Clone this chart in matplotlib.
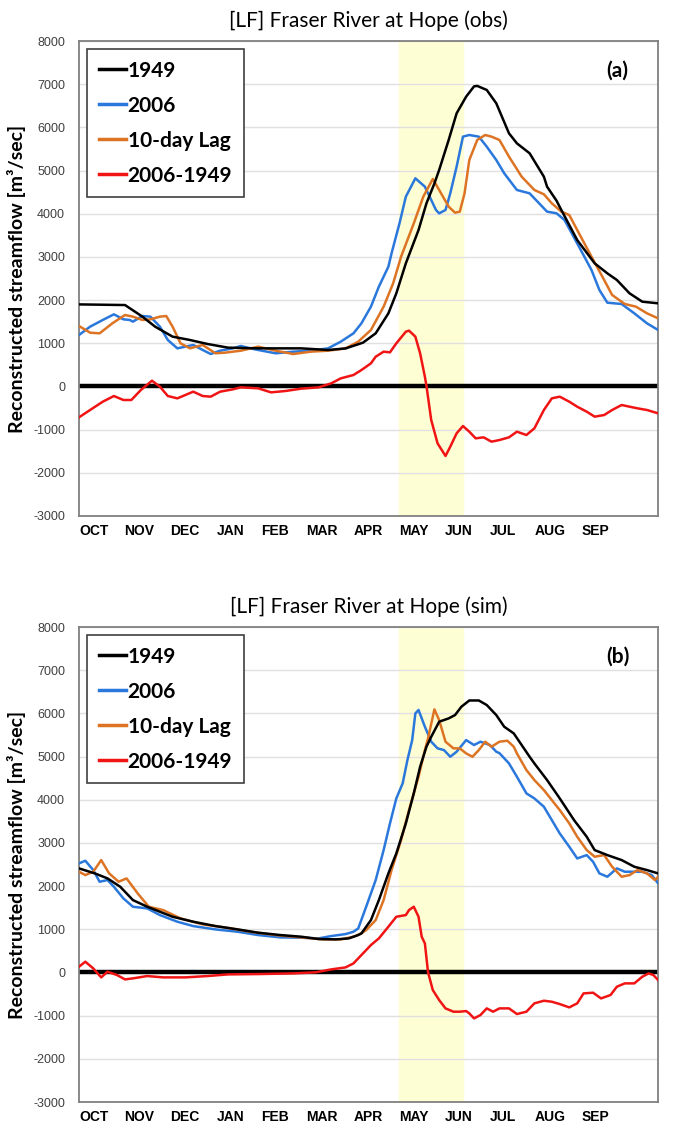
import matplotlib
matplotlib.use("Agg")
import matplotlib.pyplot as plt

# ---- data (day of water year, m3/s) ----
months = ["OCT", "NOV", "DEC", "JAN", "FEB", "MAR", "APR", "MAY", "JUN", "JUL", "AUG", "SEP"]
month_pos = [0, 28.5, 57.5, 87, 114.5, 143, 173, 201.5, 230.5, 259, 287, 317]
shade_start, shade_end = 201.5, 242

# (a) observed
obs_1949_day = [0, 29, 40, 48, 59, 70, 81, 94, 113, 140, 157, 168, 179, 187, 195, 200, 206, 214, 219, 224,
                227, 233, 238, 244, 249, 251, 257, 263, 271, 276, 284, 293, 295, 301, 304, 314, 325, 333,
                339, 347, 355, 365]
obs_1949 = [1900, 1885, 1616, 1384, 1153, 1075, 983, 898, 882, 882, 844, 880, 1014, 1230, 1693, 2156, 2851,
            3623, 4241, 4700, 5013, 5708, 6325, 6711, 6950, 6960, 6866, 6557, 5862, 5630, 5400, 4858, 4627,
            4300, 4086, 3391, 2851, 2619, 2465, 2156, 1963, 1925]

obs_2006_day = [0, 7, 15, 22, 28, 32, 34, 40, 45, 51, 56, 62, 67, 72, 78, 83, 89, 97, 102, 108, 113, 124,
                135, 146, 157, 165, 173, 178, 184, 189, 195, 197, 202, 206, 212, 218, 222, 225, 227, 231,
                234, 238, 242, 246, 252, 257, 263, 268, 276, 284, 290, 295, 301, 306, 314, 323, 328, 333,
                342, 350, 358, 365]
obs_2006 = [1191, 1384, 1539, 1670, 1554, 1539, 1500, 1631, 1616, 1384, 1075, 882, 921, 960, 844, 751, 828,
            882, 937, 882, 844, 767, 805, 828, 882, 1037, 1230, 1461, 1848, 2311, 2774, 3083, 3777, 4395,
            4820, 4627, 4318, 4086, 4009, 4086, 4472, 5090, 5785, 5823, 5785, 5553, 5244, 4936, 4550, 4472,
            4241, 4048, 4009, 3855, 3314, 2697, 2233, 1940, 1909, 1693, 1461, 1307]

obs_lag_day = [0, 7, 13, 21, 29, 34, 40, 45, 51, 55, 59, 64, 70, 78, 86, 92, 102, 113, 124, 135, 146, 157,
               168, 176, 184, 192, 198, 203, 211, 217, 223, 227, 233, 237, 240, 243, 246, 251, 256, 260,
               265, 271, 279, 287, 293, 298, 304, 309, 314, 323, 331, 336, 344, 351, 358, 365]
obs_lag = [1400, 1245, 1230, 1461, 1654, 1616, 1539, 1554, 1616, 1631, 1384, 998, 882, 960, 767, 782, 828,
           921, 828, 751, 805, 828, 882, 1037, 1307, 1848, 2388, 3005, 3777, 4395, 4804, 4550, 4163, 4024,
           4048, 4472, 5244, 5708, 5823, 5785, 5708, 5322, 4858, 4550, 4450, 4241, 4048, 3970, 3623, 3005,
           2465, 2118, 1909, 1848, 1693, 1577]

obs_diff_day = [0, 7, 15, 22, 28, 33, 39, 46, 51, 56, 62, 67, 72, 78, 83, 89, 97, 102, 113, 121, 130, 140,
                151, 159, 165, 173, 178, 184, 187, 192, 196, 200, 206, 208, 212, 215, 218, 219, 222, 226,
                231, 234, 238, 242, 246, 250, 255, 260, 265, 271, 276, 282, 287, 293, 298, 303, 309, 314,
                320, 325, 331, 336, 342, 347, 352, 358, 365]
obs_diff = [-716, -546, -353, -222, -314, -314, -83, 133, -6, -222, -276, -199, -121, -222, -237, -121, -67,
            -21, -44, -137, -106, -52, -21, 72, 187, 265, 380, 535, 689, 805, 790, 998, 1268, 1292, 1153, 767,
            226, 10, -778, -1318, -1611, -1395, -1086, -917, -1048, -1202, -1179, -1279, -1241, -1179, -1048,
            -1125, -971, -546, -276, -237, -353, -469, -585, -700, -662, -546, -430, -469, -507, -546, -623]

# (b) simulated
sim_1949_day = [0, 10, 18, 26, 34, 43, 51, 59, 72, 86, 100, 113, 127, 140, 151, 162, 170, 176, 178, 184, 189,
                195, 200, 206, 211, 215, 219, 222, 227, 233, 237, 241, 246, 252, 257, 263, 268, 274, 279, 284,
                287, 295, 303, 312, 320, 325, 333, 342, 350, 358, 365]
sim_1949 = [2411, 2295, 2179, 1986, 1677, 1523, 1407, 1291, 1176, 1075, 998, 921, 867, 829, 775, 767, 790, 867,
            905, 1214, 1677, 2295, 2758, 3453, 4148, 4765, 5229, 5460, 5808, 5885, 5962, 6155, 6300, 6300, 6194,
            5962, 5692, 5538, 5268, 4997, 4843, 4457, 4032, 3530, 3144, 2835, 2719, 2604, 2449, 2372, 2295]

sim_2006_day = [0, 4, 9, 13, 18, 22, 28, 34, 43, 51, 62, 72, 86, 100, 113, 127, 140, 151, 159, 168, 173, 176,
                181, 187, 192, 196, 200, 204, 207, 210, 212, 214, 218, 222, 226, 230, 234, 238, 244, 249, 253,
                259, 263, 265, 271, 276, 282, 287, 293, 298, 303, 309, 314, 320, 324, 328, 333, 339, 344, 350,
                355, 361, 365]
sim_2006 = [2527, 2588, 2372, 2102, 2141, 1986, 1716, 1523, 1484, 1330, 1176, 1075, 998, 944, 867, 813, 805, 790,
            844, 890, 944, 1021, 1523, 2141, 2835, 3453, 4032, 4380, 4920, 5383, 6000, 6080, 5692, 5345, 5191,
            5152, 4997, 5113, 5383, 5268, 5345, 5268, 5113, 5080, 4843, 4534, 4148, 4032, 3839, 3530, 3221,
            2913, 2642, 2719, 2565, 2295, 2218, 2411, 2334, 2334, 2334, 2256, 2063]

sim_lag_day = [0, 4, 9, 14, 19, 25, 30, 37, 44, 53, 64, 78, 92, 108, 124, 140, 154, 165, 173, 178, 181, 187, 192,
               197, 203, 208, 214, 218, 220, 224, 227, 231, 236, 240, 244, 248, 252, 256, 260, 265, 270, 274, 276,
               282, 287, 293, 298, 303, 309, 314, 320, 325, 331, 336, 342, 347, 352, 358, 363, 365]
sim_lag = [2334, 2256, 2334, 2604, 2295, 2102, 2179, 1832, 1523, 1446, 1253, 1114, 1045, 944, 867, 813, 767, 767,
           829, 906, 983, 1214, 1677, 2372, 3067, 3762, 4534, 5151, 5422, 6094, 5846, 5345, 5191, 5191, 5074,
           4997, 5152, 5345, 5229, 5345, 5368, 5229, 5074, 4688, 4457, 4225, 3993, 3762, 3453, 3144, 2835, 2681,
           2719, 2449, 2218, 2256, 2372, 2295, 2141, 2218]

sim_diff_day = [0, 4, 9, 14, 18, 24, 29, 34, 43, 53, 67, 81, 94, 113, 135, 149, 159, 168, 173, 178, 184, 189, 195,
                200, 206, 208, 211, 214, 216, 218, 220, 223, 227, 231, 236, 240, 244, 246, 249, 253, 257, 261, 265,
                271, 276, 282, 287, 293, 298, 303, 309, 314, 318, 324, 329, 335, 339, 344, 350, 355, 359, 362, 365]
sim_diff = [134, 250, 95, -113, 18, -59, -160, -136, -82, -113, -113, -82, -44, -36, -21, 3, 72, 118, 211, 404, 636,
            790, 1060, 1291, 1330, 1446, 1523, 1291, 828, 674, 3, -407, -638, -831, -908, -908, -893, -947, -1063,
            -986, -831, -908, -831, -831, -962, -908, -715, -654, -677, -731, -808, -715, -484, -468, -600, -522,
            -329, -252, -252, -98, -21, -59, -175]

C_1949 = "#000000"
C_2006 = "#2a78dc"
C_LAG = "#dd7424"
C_DIFF = "#f01414"

plt.rcParams["font.family"] = ["Lato", "DejaVu Sans"]


def draw_panel(ax, title, tag, s1949, s2006, slag, sdiff):
    ax.axvspan(shade_start, shade_end, color="#fefed4", zorder=0)
    for v in range(-3000, 8001, 1000):
        if v != 0:
            ax.axhline(v, color="#e0e0e0", lw=1.0, zorder=1)
    ax.axhline(0, color="black", lw=3.2, zorder=2)
    ax.plot(*s1949, color=C_1949, lw=1.8, label="1949", zorder=4)
    ax.plot(*s2006, color=C_2006, lw=1.8, label="2006", zorder=3)
    ax.plot(*slag, color=C_LAG, lw=1.8, label="10-day Lag", zorder=3)
    ax.plot(*sdiff, color=C_DIFF, lw=1.8, label="2006-1949", zorder=3)
    ax.set_xlim(0, 365)
    ax.set_ylim(-3000, 8000)
    ax.set_yticks(range(-3000, 8001, 1000))
    ax.set_yticklabels([str(v) for v in range(-3000, 8001, 1000)],
                       fontsize=9, color="#404040", family="Liberation Sans")
    ax.set_xticks(month_pos)
    ax.set_xticklabels(months, fontsize=10, fontweight="bold", family="Liberation Sans", ha="left")
    ax.tick_params(length=0, pad=6)
    ax.tick_params(axis="y", pad=10)
    for sp in ax.spines.values():
        sp.set_color("#808080")
        sp.set_linewidth(1.3)
    ax.set_title(title, fontsize=15, pad=10)
    ax.set_ylabel("Reconstructed streamflow [m³/sec]", fontsize=14, fontweight="bold", labelpad=5)
    ax.text(0.93, 0.938, tag, transform=ax.transAxes, fontsize=15, fontweight="bold", ha="center", va="center")
    leg = ax.legend(loc="upper left", bbox_to_anchor=(0.014, 0.983), borderaxespad=0,
                    prop={"weight": "bold", "size": 15}, handlelength=1.3, handletextpad=0.1,
                    labelspacing=0.72, borderpad=0.55, fancybox=False, framealpha=1)
    leg.get_frame().set_edgecolor("#404040")
    leg.get_frame().set_linewidth(1.2)
    for line in leg.get_lines():
        line.set_linewidth(2.5)


fig = plt.figure(figsize=(6.75, 11.36), dpi=100)
ax1 = fig.add_axes([0.117, 0.5458, 0.858, 0.4181])
ax2 = fig.add_axes([0.117, 0.0299, 0.858, 0.4181])

draw_panel(ax1, "[LF] Fraser River at Hope (obs)", "(a)",
           (obs_1949_day, obs_1949), (obs_2006_day, obs_2006), (obs_lag_day, obs_lag), (obs_diff_day, obs_diff))
draw_panel(ax2, "[LF] Fraser River at Hope (sim)", "(b)",
           (sim_1949_day, sim_1949), (sim_2006_day, sim_2006), (sim_lag_day, sim_lag), (sim_diff_day, sim_diff))

fig.savefig("out.png", dpi=100)
